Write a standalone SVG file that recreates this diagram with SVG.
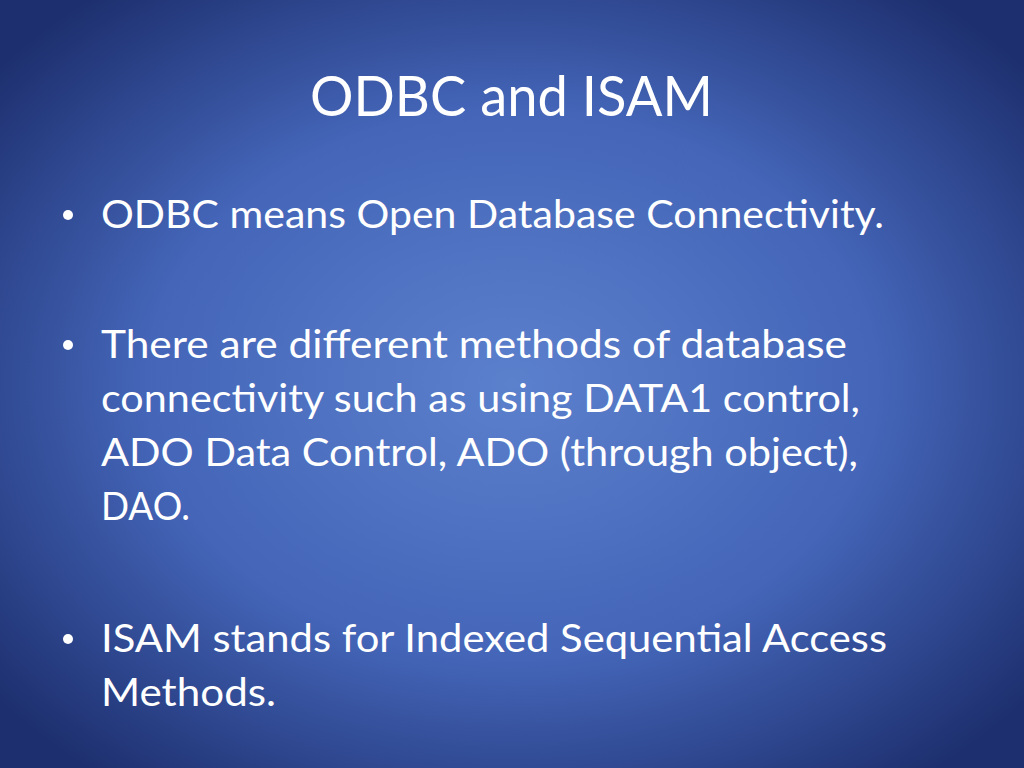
<svg xmlns="http://www.w3.org/2000/svg" width="1024" height="768" viewBox="0 0 1024 768">
<defs>
<radialGradient id="bg" cx="50%" cy="50%" r="65%">
<stop offset="0" stop-color="#5b80cc"/>
<stop offset="0.55" stop-color="#4465b8"/>
<stop offset="1" stop-color="#1d2f6e"/>
</radialGradient>
<style>
text{font-family:Lato,"Open Sans","Liberation Sans",sans-serif;fill:#fff}
.b{font-size:39px}
.t{font-size:56px}
</style>
</defs>
<rect width="1024" height="768" fill="url(#bg)"/>
<g id="title"><text class="t" x="310" y="116" textLength="403" lengthAdjust="spacingAndGlyphs">ODBC and ISAM</text></g>
<g id="bullets">
<circle cx="68" cy="215" r="5" fill="#fff"/>
<circle cx="68" cy="345" r="5" fill="#fff"/>
<circle cx="68" cy="639" r="5" fill="#fff"/>
<text class="b" x="101" y="228" textLength="783" lengthAdjust="spacingAndGlyphs">ODBC means Open Database Connectivity.</text>
<text class="b" x="101" y="358" textLength="746" lengthAdjust="spacingAndGlyphs">There are different methods of database</text>
<text class="b" x="101" y="412" textLength="759" lengthAdjust="spacingAndGlyphs">connectivity such as using DATA1 control,</text>
<text class="b" x="101" y="466" textLength="757" lengthAdjust="spacingAndGlyphs">ADO Data Control, ADO (through object),</text>
<text class="b" x="101" y="520" textLength="89" lengthAdjust="spacingAndGlyphs">DAO.</text>
<text class="b" x="101" y="652" textLength="786" lengthAdjust="spacingAndGlyphs">ISAM stands for Indexed Sequential Access</text>
<text class="b" x="101" y="706" textLength="175" lengthAdjust="spacingAndGlyphs">Methods.</text>
</g>
</svg>
